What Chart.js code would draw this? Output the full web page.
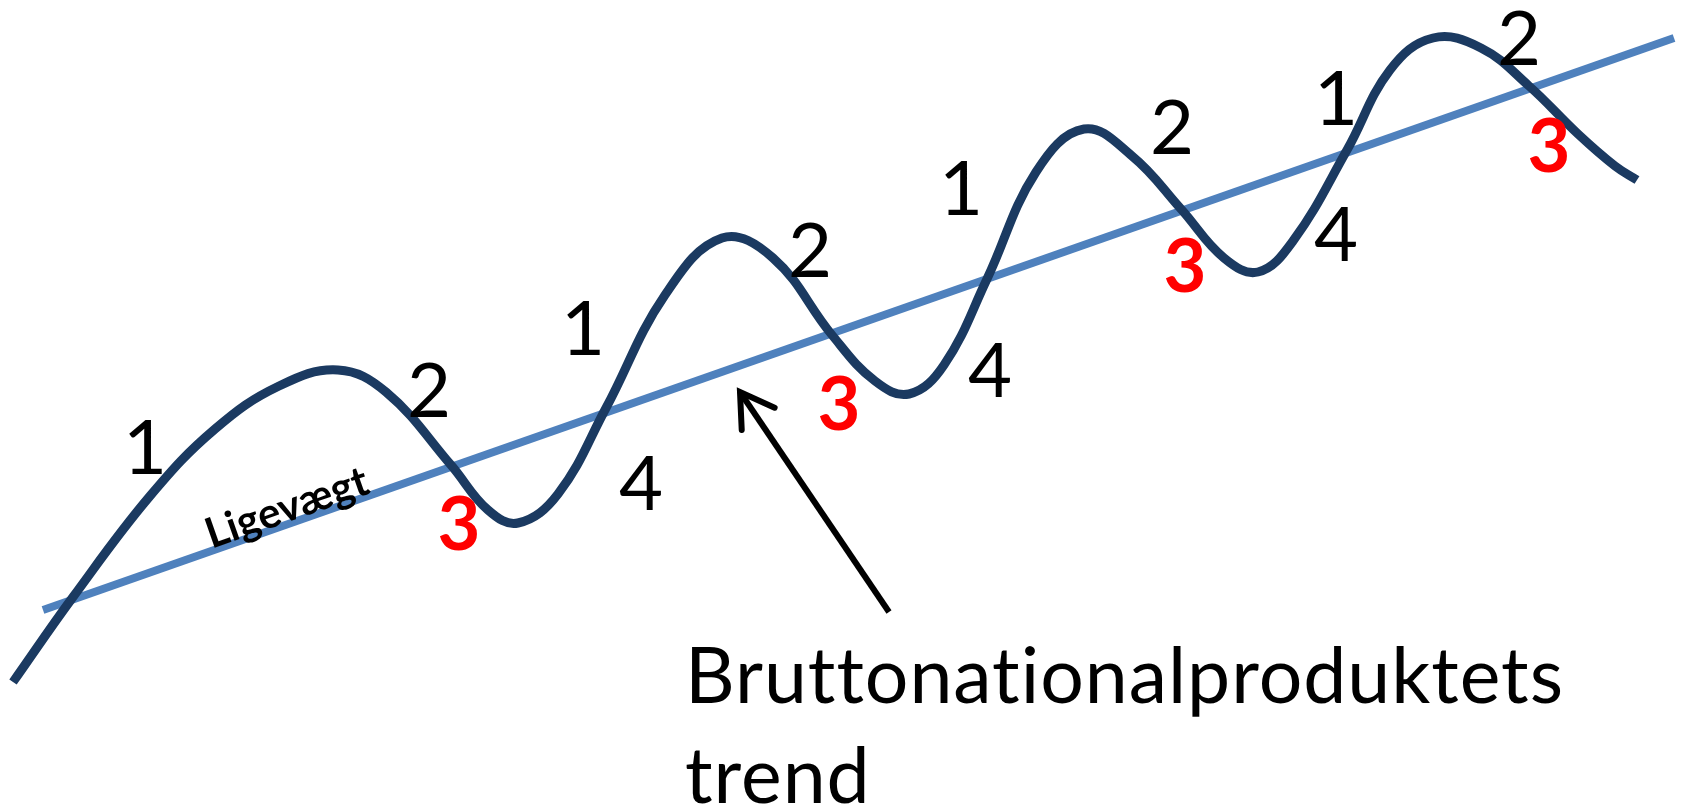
<!DOCTYPE html>
<html>
<head>
<meta charset="utf-8">
<script src="https://cdn.jsdelivr.net/npm/chart.js@4/dist/chart.umd.min.js"></script>
<style>
  html, body { margin: 0; padding: 0; background: #fff; }
  #wrap { width: 1683px; height: 807px; }
</style>
</head>
<body>
<div id="wrap"><canvas id="chart"></canvas></div>
<script>
// Konjunkturbølgen (aflæst fra billedet, i billedkoordinater)
const waveX = [13, 73, 150, 215, 279, 338, 386, 451, 488, 518, 558, 606, 665, 722, 773, 832, 875, 909, 944, 987,
               1036, 1084, 1132, 1181, 1224, 1258, 1293, 1347, 1390, 1433, 1481, 1529, 1578, 1615, 1637];
const waveY = [682, 597, 496, 429, 386, 370, 392, 465, 510, 523, 494, 408, 295, 238, 258, 335, 381, 394, 365, 279,
               172, 129, 156, 209, 258, 272, 241, 150, 70, 38, 48, 86, 134, 166, 180];

// Ligevægtslinjen (trend)
const trendX = [43, 1674];
const trendY = [610, 38];

// Faser 1-4 langs kurven
const phaseText = ['1', '2', '3', '4', '1', '2', '3', '4', '1', '2', '3', '4', '1', '2', '3'];
const phaseX = [145, 429, 459, 641, 583, 810, 839, 990, 961, 1172, 1185, 1336, 1336, 1519, 1549];
const phaseY = [449, 392, 526, 485, 330, 252, 406, 372, 190, 129, 268, 236, 100, 40, 148];

// Pil mod trendlinjen
const arrowX = [889, 740];
const arrowY = [612, 392];

const toPoints = (xs, ys) => xs.map((x, i) => ({ x: x, y: ys[i] }));

// Tegner tekster og pilespids
const labelPlugin = {
    id: 'labels',
    afterDatasetsDraw(chart) {
        const ctx = chart.ctx;
        const sx = chart.scales.x;
        const sy = chart.scales.y;
        ctx.save();
        ctx.textAlign = 'center';
        ctx.textBaseline = 'middle';

        phaseText.forEach((t, i) => {
            const px = sx.getPixelForValue(phaseX[i]);
            const py = sy.getPixelForValue(phaseY[i]);
            if (t === '3') {
                ctx.fillStyle = '#FF0000';
                ctx.font = 'bold 74px Lato';
            } else {
                ctx.fillStyle = '#000';
                ctx.font = '76px Lato';
            }
            ctx.fillText(t, px, py);
        });

        // Ligevægt langs linjen
        const a = Math.atan2(sy.getPixelForValue(trendY[1]) - sy.getPixelForValue(trendY[0]),
                             sx.getPixelForValue(trendX[1]) - sx.getPixelForValue(trendX[0]));
        ctx.save();
        ctx.translate(sx.getPixelForValue(287), sy.getPixelForValue(508));
        ctx.rotate(a);
        ctx.fillStyle = '#000';
        ctx.font = 'bold 42px Lato';
        ctx.fillText('Ligevægt', 0, 0);
        ctx.restore();

        // pilespids
        const hx = sx.getPixelForValue(arrowX[1]);
        const hy = sy.getPixelForValue(arrowY[1]);
        const tx = sx.getPixelForValue(arrowX[0]);
        const ty = sy.getPixelForValue(arrowY[0]);
        const ang = Math.atan2(ty - hy, tx - hx);
        const len = 38;
        ctx.strokeStyle = '#000';
        ctx.lineWidth = 6;
        ctx.lineCap = 'round';
        ctx.lineJoin = 'miter';
        ctx.beginPath();
        ctx.moveTo(hx + len * Math.cos(ang - 0.55), hy + len * Math.sin(ang - 0.55));
        ctx.lineTo(hx, hy);
        ctx.lineTo(hx + len * Math.cos(ang + 0.55), hy + len * Math.sin(ang + 0.55));
        ctx.stroke();

        // stor tekst (ingen ligaturer)
        ctx.textAlign = 'left';
        ctx.textBaseline = 'alphabetic';
        ctx.fillStyle = '#000';
        ctx.font = '78px Lato';
        ctx.letterSpacing = '1px';
        const line1 = 'Bruttonationalproduktets';
        const w = ctx.measureText(line1).width;
        const k = 879 / w;
        ctx.save();
        ctx.translate(sx.getPixelForValue(685), sy.getPixelForValue(703));
        ctx.scale(k, 1);
        ctx.fillText(line1, 0, 0);
        ctx.fillText('trend', 0, 100);
        ctx.restore();

        ctx.restore();
    }
};

new Chart(document.getElementById('chart'), {
    type: 'line',
    data: {
        datasets: [{
            label: 'BNP',
            data: toPoints(waveX, waveY),
            borderColor: '#1B3A61',
            borderWidth: 9,
            tension: 0.4,
            pointRadius: 0,
            borderCapStyle: 'butt',
            borderJoinStyle: 'round',
            fill: false
        }, {
            label: 'Ligevægt',
            data: toPoints(trendX, trendY),
            borderColor: '#4F81BD',
            borderWidth: 8,
            pointRadius: 0,
            fill: false
        }, {
            label: 'Pil',
            data: toPoints(arrowX, arrowY),
            borderColor: '#000',
            borderWidth: 6,
            pointRadius: 0,
            fill: false
        }]
    },
    options: {
        responsive: true,
        maintainAspectRatio: false,
        animation: false,
        layout: { padding: 0 },
        plugins: { legend: { display: false }, tooltip: { enabled: false } },
        scales: {
            x: { type: 'linear', min: 0, max: 1683, display: false },
            y: { type: 'linear', min: 0, max: 807, reverse: true, display: false }
        }
    },
    plugins: [labelPlugin]
});
</script>
</body>
</html>
